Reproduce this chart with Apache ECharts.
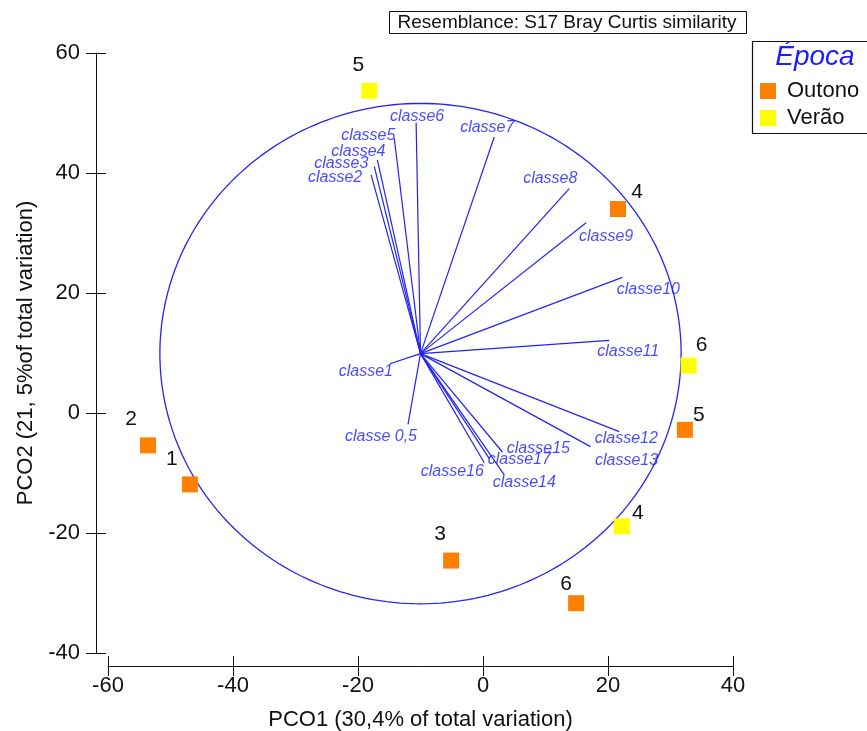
<!DOCTYPE html>
<html>
<head>
<meta charset="utf-8">
<script src="https://cdn.jsdelivr.net/npm/echarts@6/dist/echarts.min.js"></script>
<style>
  html, body { margin: 0; padding: 0; background: #ffffff; }
  #chart { width: 867px; height: 731px; }
</style>
</head>
<body>
<div id="chart"></div>
<script>
// PCO scores of the samples, by season
const outonoIds = ['1', '2', '3', '4', '5', '6'];
const outonoX = [-46.9, -53.6, -5.1, 21.6, 32.3, 14.9];
const outonoY = [-11.9, -5.4, -24.6, 34.0, -2.8, -31.7];

const veraoIds = ['4', '5', '6'];
const veraoX = [22.2, -18.2, 32.9];
const veraoY = [-18.9, 53.7, 7.9];

// Vector overlay of the size classes (end points) and its correlation circle
const vectorNames = ['classe 0,5', 'classe1', 'classe2', 'classe3', 'classe4', 'classe5',
  'classe6', 'classe7', 'classe8', 'classe9', 'classe10', 'classe11', 'classe12',
  'classe13', 'classe14', 'classe15', 'classe16', 'classe17'];
const vectorX = [-12.0, -14.9, -17.9, -17.4, -16.9, -14.2, -10.7, 1.8, 13.8, 16.5, 22.3,
  20.2, 21.8, 17.2, 3.4, 3.1, 0.2, 1.0];
const vectorY = [-1.9, 8.2, 39.7, 41.1, 42.2, 45.8, 48.4, 46.0, 37.4, 31.7, 22.6,
  12.1, -3.1, -5.6, -10.3, -6.5, -8.3, -7.6];
const vectorOrigin = [-10.0, 9.9];
const circleRadius = 41.7;

// Axis ranges and titles
const xRange = [-60, 40];
const yRange = [-40, 60];
const tickStep = 20;
const xTitle = 'PCO1 (30,4% of total variation)';
const yTitle = 'PCO2 (21, 5%of total variation)';
const resemblanceText = 'Resemblance: S17 Bray Curtis similarity';
const legendTitle = 'Época';
const seasons = ['Outono', 'Verão'];

// Label placement (pixel offsets from each mark)
const outonoLabelOffsets = [[-18, -25], [-17, -26], [-11, -26], [19, -17], [14, -15], [-10, -19]];
const veraoLabelOffsets = [[16, -13], [-11, -26], [13, -20]];
const vectorLabelOffsets = [[-27, 12], [-24, 8], [-36, 3], [-33, -3], [-19, -8], [-26, -3],
  [1, -6], [-7, -9], [-19, -10], [20, 14], [26, 12], [19, 11], [7, 7], [36, 14],
  [20, 8], [36, -3], [-32, 9], [30, 1]];

const FONT = 'Liberation Sans, Arial, sans-serif';
const BLUE_LINE = '#2323f5';
const BLUE_TEXT = '#1a1aff';
const INK = '#111111';

function sampleData(ids, xs, ys, offsets) {
  return ids.map((id, i) => ({
    value: [xs[i], ys[i]],
    name: id,
    label: { offset: offsets[i] }
  }));
}

function valueAxis(range, position, offset, inside, withLabels) {
  return {
    type: 'value',
    min: range[0],
    max: range[1],
    interval: tickStep,
    position: position,
    offset: offset,
    axisLine: { show: withLabels, onZero: false, lineStyle: { color: INK, width: 1 } },
    axisTick: { show: true, inside: inside, length: 10, lineStyle: { color: INK, width: 1 } },
    axisLabel: withLabels
      ? { show: true, color: INK, fontSize: 22, fontFamily: FONT, margin: position === 'left' ? 16 : 9 }
      : { show: false },
    splitLine: { show: false }
  };
}

const xMain = Object.assign(valueAxis(xRange, 'bottom', 13, false, true), {
  name: xTitle, nameLocation: 'middle', nameGap: 43,
  nameTextStyle: { color: INK, fontSize: 22, fontFamily: FONT }
});
const yMain = Object.assign(valueAxis(yRange, 'left', 12, false, true), {
  name: yTitle, nameLocation: 'middle', nameGap: 50,
  nameTextStyle: { color: INK, fontSize: 22, fontFamily: FONT }
});

const chart = echarts.init(document.getElementById('chart'), null, { renderer: 'canvas' });

chart.setOption({
  backgroundColor: '#ffffff',
  animation: false,
  grid: { left: 108, right: 134, top: 53, bottom: 78, containLabel: false, outerBoundsMode: 'none' },
  xAxis: [xMain, valueAxis(xRange, 'bottom', 13, true, false)],
  yAxis: [yMain, valueAxis(yRange, 'left', 12, true, false)],
  legend: {
    data: seasons,
    orient: 'vertical',
    left: 755,
    top: 75,
    itemWidth: 16,
    itemHeight: 16,
    itemGap: 5,
    icon: 'rect',
    selectedMode: false,
    itemStyle: { opacity: 1 },
    textStyle: { color: INK, fontSize: 22, fontFamily: FONT, padding: [0, 0, 0, 6] }
  },
  graphic: [
    {
      type: 'rect', silent: true,
      shape: { x: 389.5, y: 11.5, width: 357, height: 22 },
      style: { fill: '#ffffff', stroke: INK, lineWidth: 1 }
    },
    {
      type: 'text', silent: true, x: 567, y: 23,
      style: { text: resemblanceText, font: '19px ' + FONT, fill: INK, align: 'center', verticalAlign: 'middle' }
    },
    {
      type: 'rect', silent: true,
      shape: { x: 752.5, y: 41.5, width: 130, height: 92 },
      style: { fill: 'none', stroke: INK, lineWidth: 1.2 }
    },
    {
      type: 'text', silent: true, x: 815, y: 57,
      style: { text: legendTitle, font: 'italic 28px ' + FONT, fill: '#1c1cff', align: 'center', verticalAlign: 'middle' }
    }
  ],
  series: [
    {
      // correlation circle around the vector origin
      type: 'custom',
      silent: true,
      clip: false,
      z: 1,
      data: [[vectorOrigin[0], vectorOrigin[1], circleRadius]],
      renderItem: function (params, api) {
        const cx = api.value(0), cy = api.value(1), r = api.value(2);
        const pts = [];
        for (let k = 0; k <= 240; k++) {
          const t = (k / 240) * Math.PI * 2;
          pts.push(api.coord([cx + r * Math.cos(t), cy + r * Math.sin(t)]));
        }
        return {
          type: 'polyline',
          shape: { points: pts },
          style: { stroke: BLUE_LINE, fill: null, lineWidth: 1.3 }
        };
      }
    },
    {
      type: 'lines',
      coordinateSystem: 'cartesian2d',
      silent: true,
      z: 2,
      lineStyle: { color: BLUE_LINE, width: 1.2, opacity: 1 },
      data: vectorNames.map((n, i) => ({ coords: [vectorOrigin, [vectorX[i], vectorY[i]]] }))
    },
    {
      type: 'scatter',
      silent: true,
      z: 3,
      symbol: 'circle',
      symbolSize: 1,
      itemStyle: { color: 'transparent' },
      label: {
        show: true, position: 'inside', formatter: '{b}',
        color: BLUE_TEXT, fontSize: 16, fontStyle: 'italic', fontFamily: FONT
      },
      data: vectorNames.map((n, i) => ({
        value: [vectorX[i], vectorY[i]], name: n, label: { offset: vectorLabelOffsets[i] }
      }))
    },
    {
      name: 'Outono',
      type: 'scatter',
      z: 4,
      symbol: 'rect',
      symbolSize: 16,
      itemStyle: { color: '#ff8000', opacity: 1 },
      label: { show: true, position: 'inside', formatter: '{b}', color: INK, fontSize: 21, fontFamily: FONT },
      data: sampleData(outonoIds, outonoX, outonoY, outonoLabelOffsets)
    },
    {
      name: 'Verão',
      type: 'scatter',
      z: 4,
      symbol: 'rect',
      symbolSize: 16,
      itemStyle: { color: '#ffff00', opacity: 1 },
      label: { show: true, position: 'inside', formatter: '{b}', color: INK, fontSize: 21, fontFamily: FONT },
      data: sampleData(veraoIds, veraoX, veraoY, veraoLabelOffsets)
    }
  ]
});
</script>
</body>
</html>
